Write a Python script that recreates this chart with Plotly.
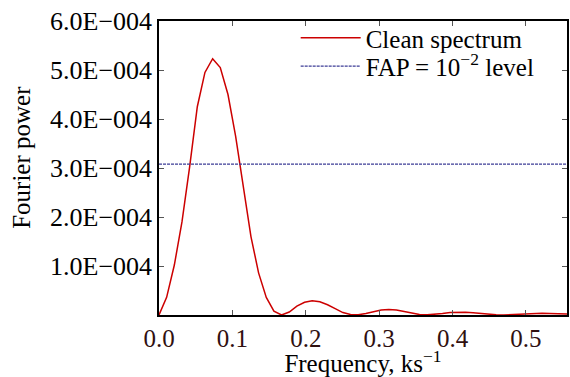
import plotly.graph_objects as go

freq = [0.0000, 0.0104, 0.0209, 0.0313, 0.0418, 0.0522, 0.0626, 0.0731, 0.0835, 0.0940,
        0.1044, 0.1148, 0.1253, 0.1357, 0.1462, 0.1566, 0.1670, 0.1775, 0.1879, 0.1984,
        0.2088, 0.2192, 0.2297, 0.2401, 0.2506, 0.2610, 0.2714, 0.2819, 0.2923, 0.3028,
        0.3132, 0.3236, 0.3341, 0.3445, 0.3550, 0.3654, 0.3758, 0.3863, 0.3967, 0.4072,
        0.4176, 0.4280, 0.4385, 0.4489, 0.4594, 0.4698, 0.4802, 0.4907, 0.5011, 0.5116,
        0.5220, 0.5324, 0.5429, 0.5533, 0.5638]

power_e4 = [0.0, 0.36, 1.02, 1.90, 3.03, 4.25, 4.95, 5.23, 5.05, 4.50,
            3.65, 2.62, 1.60, 0.86, 0.36, 0.08, 0.0, 0.06, 0.18, 0.26,
            0.29, 0.27, 0.21, 0.13, 0.05, 0.01, 0.005, 0.03, 0.07, 0.10,
            0.11, 0.10, 0.07, 0.04, 0.01, 0.003, 0.01, 0.03, 0.05, 0.055,
            0.055, 0.045, 0.03, 0.015, 0.005, 0.002, 0.008, 0.02, 0.03, 0.035,
            0.035, 0.03, 0.025, 0.02, 0.015]
power = [p * 1e-4 for p in power_e4]

fap_level = 3.08e-4

x_ticks = [0.0, 0.1, 0.2, 0.3, 0.4, 0.5]
x_labels = ["0.0", "0.1", "0.2", "0.3", "0.4", "0.5"]
y_ticks = [1e-4, 2e-4, 3e-4, 4e-4, 5e-4, 6e-4]
y_labels = ["1.0E\u2212004", "2.0E\u2212004", "3.0E\u2212004", "4.0E\u2212004", "5.0E\u2212004", "6.0E\u2212004"]

x_range = [0, 0.556]
y_range = [0, 6.0e-4]

font_family = "Liberation Serif"
fs = 25

fig = go.Figure()
fig.add_trace(go.Scatter(
    x=freq, y=power, mode="lines", name="Clean spectrum",
    line=dict(color="#cc0000", width=1.5), legend="legend",
))
fig.add_trace(go.Scatter(
    x=x_range, y=[fap_level, fap_level], mode="lines",
    name="FAP = 10<sup>\u22122</sup> level",
    line=dict(color="#3c3c96", width=1.2, dash="3px,1px"), legend="legend2",
))

axis_common = dict(
    showgrid=False, zeroline=False, showline=True, linecolor="black", linewidth=1.5,
    ticks="inside", ticklen=5, tickcolor="#555555", tickwidth=1, mirror="ticks",
)

legend_common = dict(
    xanchor="left", yanchor="middle",
    bgcolor="rgba(0,0,0,0)", borderwidth=0,
    font=dict(family=font_family, size=fs, color="black"),
    itemwidth=60, tracegroupgap=0,
)

fig.update_layout(
    width=570, height=377,
    margin=dict(l=159, r=1, t=21, b=62),
    paper_bgcolor="white", plot_bgcolor="white",
    font=dict(family=font_family, size=fs, color="black"),
    showlegend=True,
    legend=dict(x=0.335, y=0.942, **legend_common),
    legend2=dict(x=0.335, y=0.846, **legend_common),
    xaxis=dict(
        range=x_range, tickvals=x_ticks, ticktext=x_labels,
        tickfont=dict(family=font_family, size=fs, color="#301010"),
        title=dict(text="Frequency, ks<sup>\u22121</sup>", standoff=6,
                   font=dict(family=font_family, size=fs)),
        **axis_common,
    ),
    yaxis=dict(
        range=y_range, tickvals=y_ticks, ticktext=y_labels,
        tickfont=dict(family=font_family, size=26, color="black"),
        **axis_common,
    ),
    annotations=[dict(
        text="Fourier power", textangle=-90, showarrow=False,
        xref="paper", yref="paper", x=-0.339, y=0.537,
        xanchor="center", yanchor="middle",
        font=dict(family=font_family, size=fs, color="black"),
    )],
)

fig.write_html("out.html")
